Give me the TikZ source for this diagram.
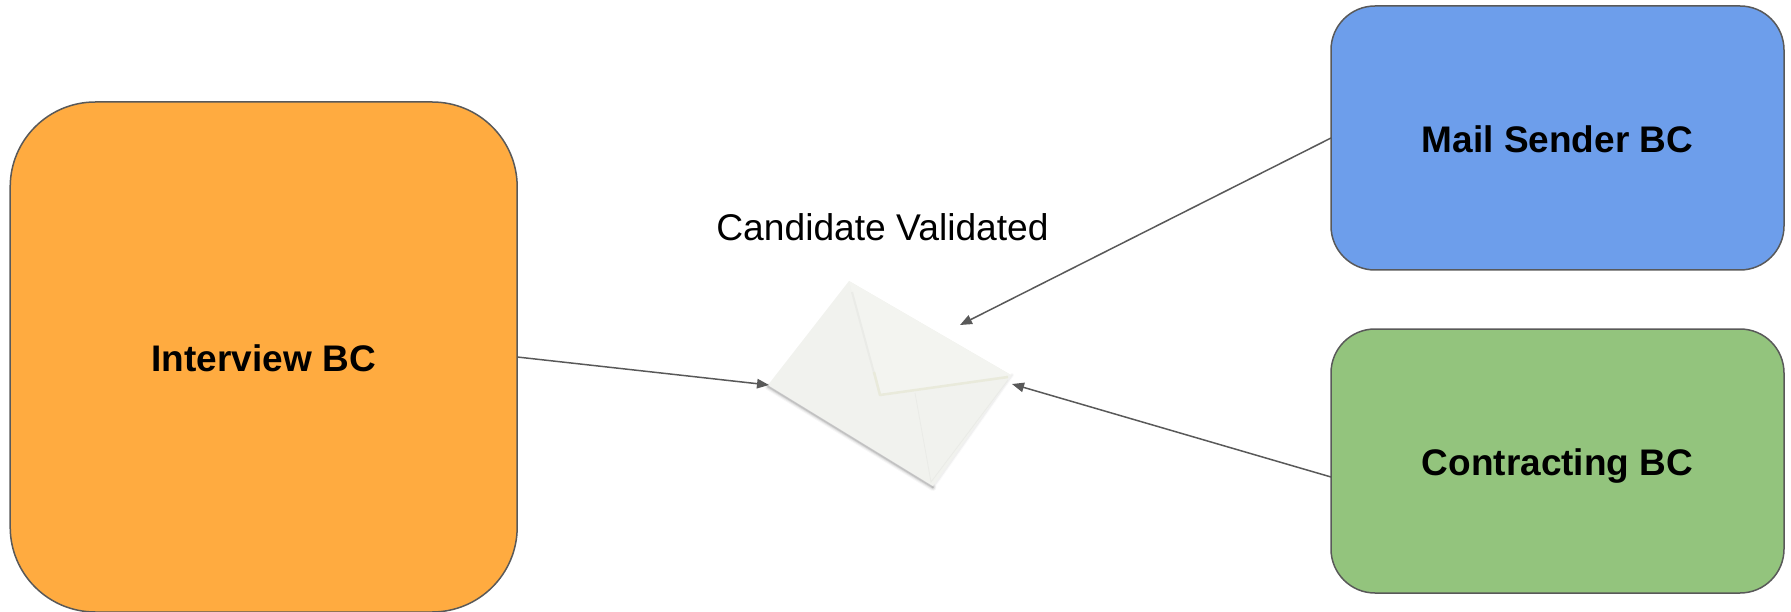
\documentclass[tikz,border=0pt]{standalone}
\usepackage{fontspec}
\setmainfont{Liberation Sans}
\usetikzlibrary{arrows.meta}
\definecolor{orangebc}{HTML}{FFAB40}
\definecolor{bluebc}{HTML}{6D9EEB}
\definecolor{greenbc}{HTML}{93C47D}
\definecolor{edgegray}{HTML}{595959}
\definecolor{envbase}{HTML}{F1F2EE}
\definecolor{envflap}{HTML}{F3F4F0}
\definecolor{envfold}{HTML}{E9EADB}
\tikzset{
  bcbox/.style={draw=edgegray,line width=1.5pt,outer sep=0pt,inner sep=0pt,font=\fontsize{37}{42}\selectfont\bfseries,text=black,text height=29pt,text depth=0pt},
  flow/.style={draw=edgegray,line width=1.5pt,-{Triangle[length=12pt,width=9.5pt]},shorten >=0pt,shorten <=0pt},
  envshadow/.style={line cap=round,line join=round}
}
\begin{document}
\begin{tikzpicture}[x=1pt,y=-1pt]
\useasboundingbox (0,0) rectangle (1791,612);
\begin{scope}
\clip (0,0) rectangle (1791,612);
\node[bcbox,fill=orangebc,rounded corners=85pt,minimum width=507pt,minimum height=510pt] (iv) at (263.7,357) {Interview BC};
\end{scope}
\node[bcbox,fill=bluebc,rounded corners=44pt,minimum width=453pt,minimum height=264pt] (mail) at (1557.5,138) {Mail Sender BC};
\node[bcbox,fill=greenbc,rounded corners=44pt,minimum width=453pt,minimum height=264pt] (con) at (1557.5,461) {Contracting BC};
\node[font=\fontsize{37.2}{42}\selectfont,inner sep=0pt] (lab) at (882.5,227) {Candidate Validated};
% envelope
\coordinate (eT) at (849,281);
\coordinate (eR) at (1011,375);
\coordinate (eB) at (933,486);
\coordinate (eL) at (768,385);
\coordinate (eA) at (880,395);
\foreach \w/\o in {7/0.03,5/0.05,3/0.08,1.5/0.1}
  \draw[envshadow,black,line width=\w pt,opacity=\o] ([yshift=-1.5pt]eL) -- ([yshift=-1.5pt]eB);
\foreach \w/\o in {4/0.02,2/0.04}
  \draw[envshadow,black,line width=\w pt,opacity=\o] ([yshift=-1pt]eB) -- ([xshift=1pt]eR);
\fill[envbase] (eT) -- (eR) -- (eB) -- (eL) -- cycle;
\fill[envflap] (eT) -- (eR) -- (eA) -- cycle;
\draw[black!3!envbase,line width=2pt] (852,292) -- (eA);
\draw[envfold,line width=2.5pt,line join=round] (874,372) -- (eA) -- (1008,377);
\draw[black!3!envbase,line width=0.8pt] (915,393) -- (931,482) -- (1008,380);
\coordinate (tipIv) at (769,385);
\coordinate (tipMail) at (960,325);
\coordinate (tipCon) at (1012,384);
\coordinate (conOut) at ([yshift=-16pt]con.west);
\draw[flow] (iv.east) -- (tipIv);
\draw[flow] (mail.west) -- (tipMail);
\draw[flow] (conOut) -- (tipCon);
\end{tikzpicture}
\end{document}
